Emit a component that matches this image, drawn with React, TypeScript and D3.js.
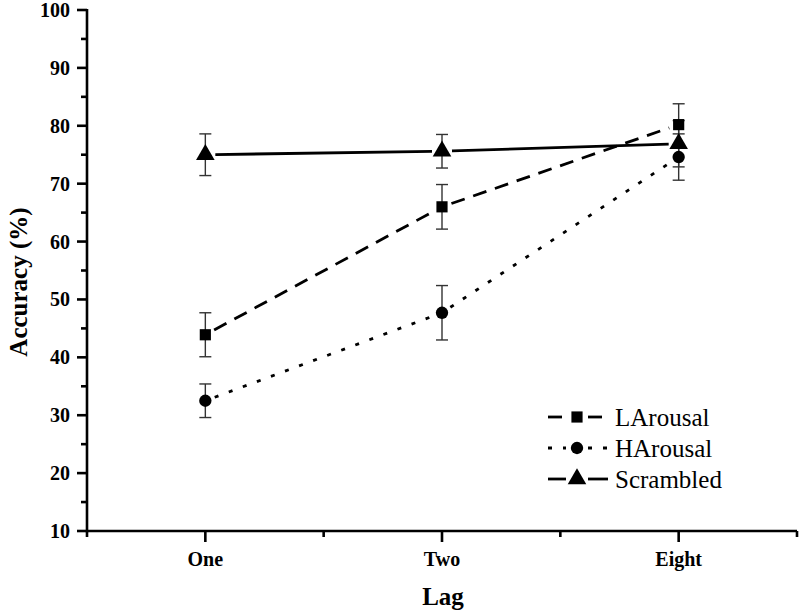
import React from "react";
import * as d3 from "d3";

const categories = ["One", "Two", "Eight"];
const lArousal = [43.9, 66.0, 80.2];
const lArousalErr = [3.8, 3.85, 3.6];
const hArousal = [32.5, 47.7, 74.6];
const hArousalErr = [2.9, 4.7, 4.0];
const scrambled = [75.0, 75.6, 76.9];
const scrambledErr = [3.6, 2.9, 4.0];
const yTicks = [10, 20, 30, 40, 50, 60, 70, 80, 90, 100];
const yMinorTicks = [15, 25, 35, 45, 55, 65, 75, 85, 95];

const series = [
  { name: "LArousal", values: lArousal, err: lArousalErr, symbol: d3.symbolSquare, size: 125, dash: "14,9" },
  { name: "HArousal", values: hArousal, err: hArousalErr, symbol: d3.symbolCircle, size: 120, dash: "4,11" },
  { name: "Scrambled", values: scrambled, err: scrambledErr, symbol: d3.symbolTriangle, size: 150, dash: null as string | null },
];

const FONT = "Liberation Serif, Tinos, Times New Roman, DejaVu Serif, serif";

export default function App() {
  const W = 800, H = 614;
  const x = d3.scaleLinear().domain([0.5, 3.5]).range([87, 797]);
  const y = d3.scaleLinear().domain([10, 100]).range([531, 10]);
  const xMinor = [0.5, 1.5, 2.5, 3.5];
  const trim = 10;

  const segs = (vals: number[]) => {
    const out: { x1: number; y1: number; x2: number; y2: number }[] = [];
    for (let i = 0; i < vals.length - 1; i++) {
      const ax = x(i + 1), ay = y(vals[i]);
      const bx = x(i + 2), by = y(vals[i + 1]);
      const dx = bx - ax, dy = by - ay;
      const len = Math.hypot(dx, dy);
      const ux = dx / len, uy = dy / len;
      out.push({ x1: ax + ux * trim, y1: ay + uy * trim, x2: bx - ux * trim, y2: by - uy * trim });
    }
    return out;
  };

  const legendRows = [417, 448, 479];
  const txt = { fontFamily: FONT };

  return (
    <svg width={W} height={H} style={{ position: "absolute", left: 0, top: 0, background: "#fff", fontFamily: FONT }}>
      {/* Axes */}
      <line x1={87} y1={y(100) - 1} x2={87} y2={y(10) + 1.2} stroke="#000" strokeWidth={2.6} />
      <line x1={86} y1={y(10)} x2={797} y2={y(10)} stroke="#000" strokeWidth={2.6} />
      {yTicks.map((t) => (
        <g key={"yt" + t}>
          <line x1={77} x2={87} y1={y(t)} y2={y(t)} stroke="#000" strokeWidth={2.6} />
          <text x={70} y={y(t)} dy="0.35em" textAnchor="end" style={txt} fontWeight="bold" fontSize={20}>
            {t}
          </text>
        </g>
      ))}
      {yMinorTicks.map((t) => (
        <line key={"ym" + t} x1={81} x2={87} y1={y(t)} y2={y(t)} stroke="#000" strokeWidth={2.6} />
      ))}
      {categories.map((c, i) => (
        <g key={c}>
          <line x1={x(i + 1)} x2={x(i + 1)} y1={y(10)} y2={y(10) + 11} stroke="#000" strokeWidth={2.6} />
          <text x={x(i + 1)} y={566} textAnchor="middle" style={txt} fontWeight="bold" fontSize={20}>
            {c}
          </text>
        </g>
      ))}
      {xMinor.map((t) => (
        <line key={"xm" + t} x1={x(t)} x2={x(t)} y1={y(10)} y2={y(10) + 6} stroke="#000" strokeWidth={2.6} />
      ))}
      <text x={443} y={605} textAnchor="middle" style={txt} fontWeight="bold" fontSize={25}>
        Lag
      </text>
      <text
        transform={`translate(27,${282}) rotate(-90)`}
        textAnchor="middle"
        style={txt}
        fontWeight="bold"
        fontSize={25}
      >
        Accuracy (%)
      </text>

      {/* Lines */}
      {series.map((s) => (
        <g key={s.name + "line"}>
          {segs(s.values).map((g, i) => (
            <line
              key={i}
              x1={g.x1}
              y1={g.y1}
              x2={g.x2}
              y2={g.y2}
              stroke="#000"
              strokeWidth={2.8}
              strokeDasharray={s.dash ?? undefined}
            />
          ))}
        </g>
      ))}

      {/* Error bars */}
      {series.map((s) => (
        <g key={s.name + "err"}>
          {s.values.map((v, i) => {
            const cx = x(i + 1);
            const top = y(v + s.err[i]);
            const bot = y(v - s.err[i]);
            return (
              <g key={i} stroke="#333" strokeWidth={1.4}>
                <line x1={cx} x2={cx} y1={top} y2={bot} />
                <line x1={cx - 6} x2={cx + 6} y1={top} y2={top} />
                <line x1={cx - 6} x2={cx + 6} y1={bot} y2={bot} />
              </g>
            );
          })}
        </g>
      ))}

      {/* Markers */}
      {series.map((s) => (
        <g key={s.name + "mk"}>
          {s.values.map((v, i) => (
            <path
              key={i}
              d={d3.symbol().type(s.symbol).size(s.size)() as string}
              transform={`translate(${x(i + 1)},${y(v)})`}
              fill="#000"
            />
          ))}
        </g>
      ))}

      {/* Legend */}
      {series.map((s, i) => {
        const ly = legendRows[i];
        return (
          <g key={s.name + "lg"}>
            <line x1={548} x2={566} y1={ly} y2={ly} stroke="#000" strokeWidth={2.8} strokeDasharray={s.dash ?? undefined} />
            <line x1={588} x2={608} y1={ly} y2={ly} stroke="#000" strokeWidth={2.8} strokeDasharray={s.dash ?? undefined} />
            <path
              d={d3.symbol().type(s.symbol).size(s.size)() as string}
              transform={`translate(577,${ly})`}
              fill="#000"
            />
            <text x={615} y={ly} dy="0.35em" style={txt} fontSize={25}>
              {s.name}
            </text>
          </g>
        );
      })}
    </svg>
  );
}
